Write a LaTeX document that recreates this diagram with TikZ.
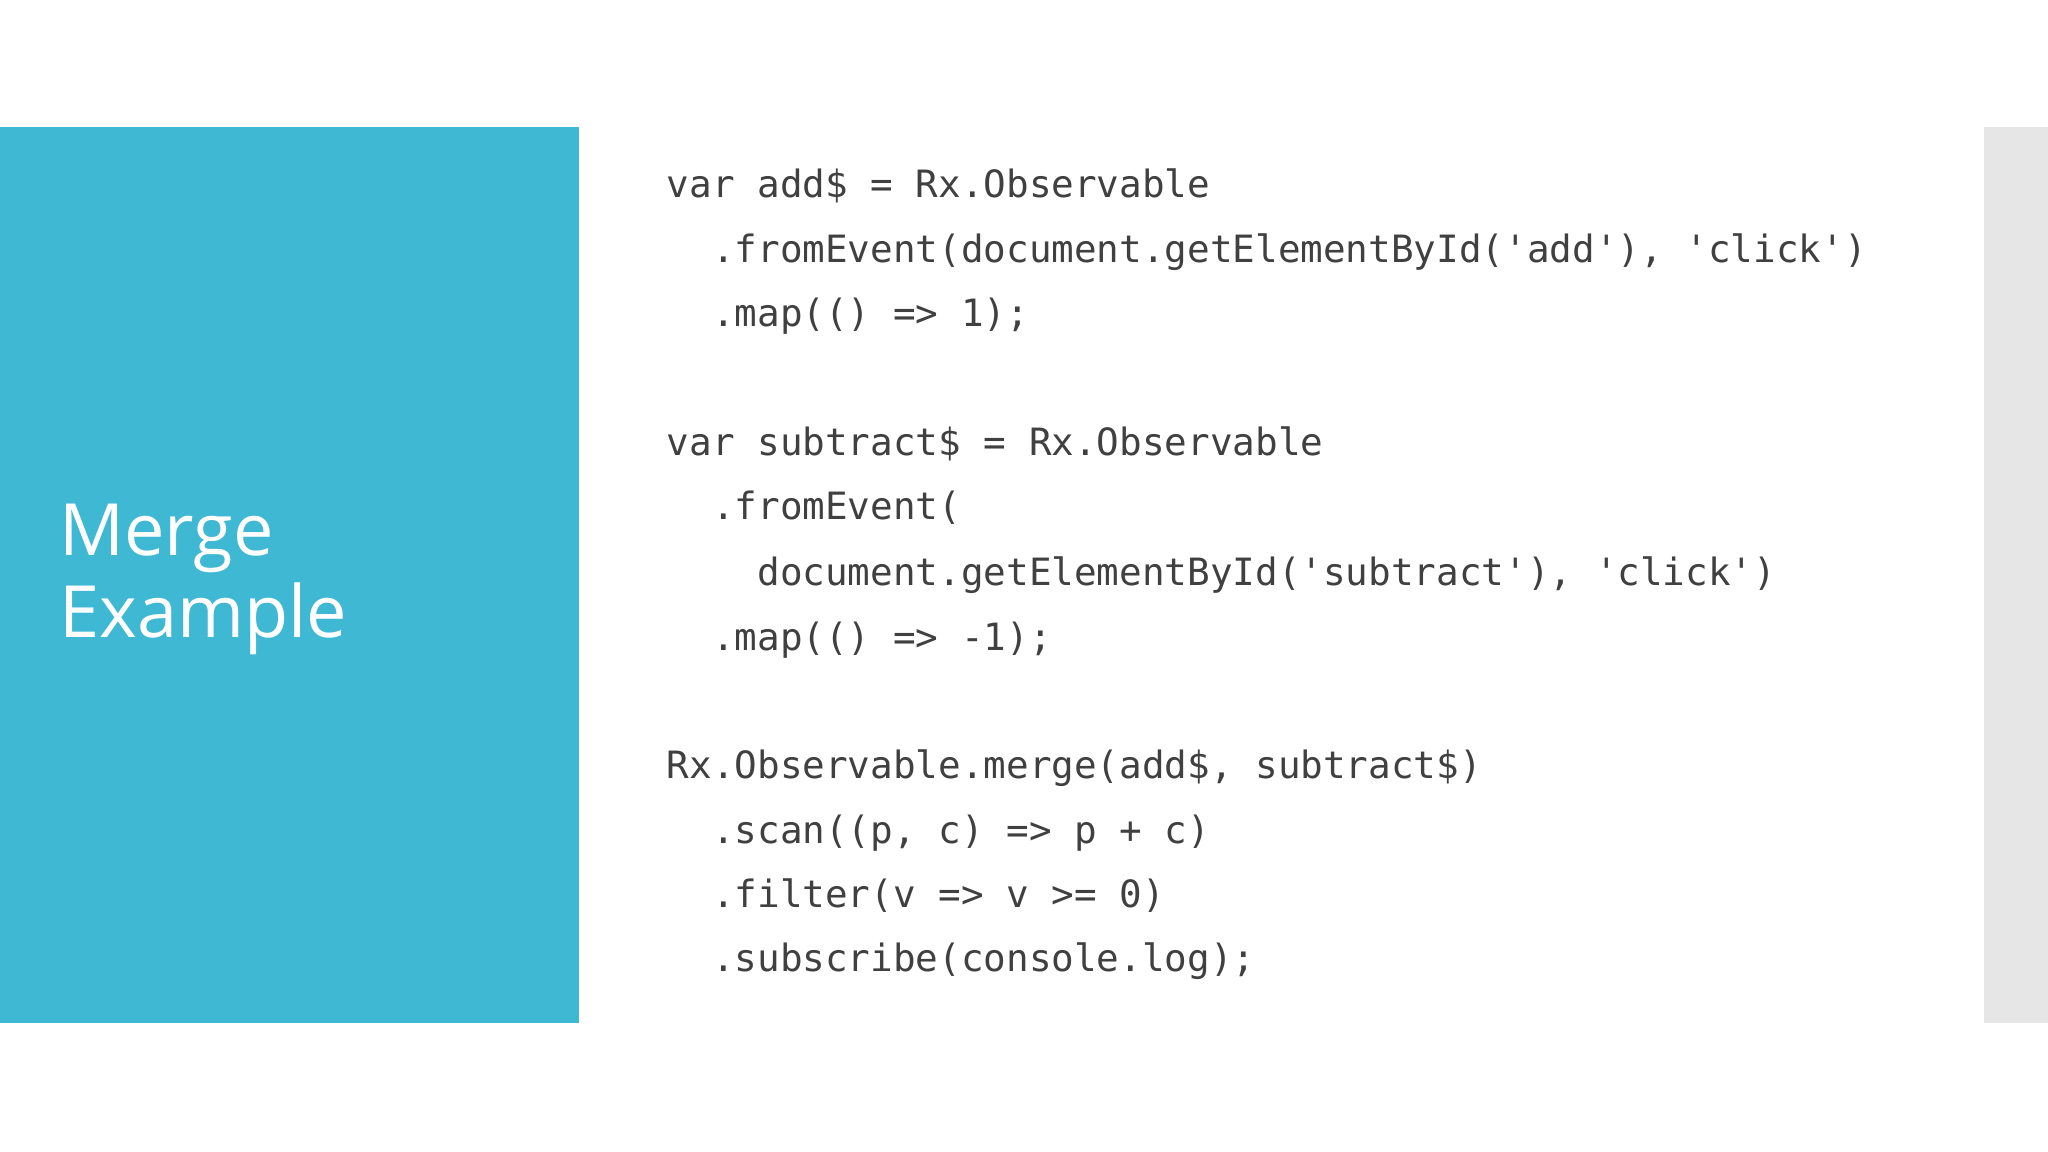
\documentclass[tikz,border=0pt]{standalone}
\usepackage{fontspec}
\setmainfont{Open Sans}
\newfontfamily\codefont{DejaVu Sans Mono}
\definecolor{slateblue}{HTML}{3FB8D4}
\definecolor{bargray}{HTML}{E6E6E6}
\definecolor{codegray}{HTML}{404040}
\begin{document}
\begin{tikzpicture}[x=0.013061cm,y=-0.013061cm,
  codeline/.style={anchor=base west,inner sep=0pt,text=codegray,font=\codefont\fontsize{10.7pt}{12pt}\selectfont},
  titletext/.style={anchor=base west,inner sep=0pt,text=white,font=\fontsize{20.5pt}{24pt}\selectfont}]
\useasboundingbox (0,0) rectangle (1568,882);
\fill[white] (0,0) rectangle (1568,882);
\fill[slateblue] (0,97) rectangle (443,783);
\fill[bargray] (1519,97) rectangle (1568,783);
\node[titletext] (t1) at (45,425) {Merge};
\node[titletext] (t2) at (45,488) {Example};
\node[codeline] (l1) at (510,151) {var add\$ = Rx.Observable};
\node[codeline] (l2) at (510,201) {\ \ .fromEvent(document.getElementById('add'), 'click')};
\node[codeline] (l3) at (510,250) {\ \ .map(() => 1);};
\node[codeline] (l4) at (510,349) {var subtract\$ = Rx.Observable};
\node[codeline] (l5) at (510,398) {\ \ .fromEvent(};
\node[codeline] (l6) at (510,448) {\ \ \ \ document.getElementById('subtract'), 'click')};
\node[codeline] (l7) at (510,498) {\ \ .map(() => -1);};
\node[codeline] (l8) at (510,596) {Rx.Observable.merge(add\$, subtract\$)};
\node[codeline] (l9) at (510,646) {\ \ .scan((p, c) => p + c)};
\node[codeline] (l10) at (510,695) {\ \ .filter(v => v >= 0)};
\node[codeline] (l11) at (510,744) {\ \ .subscribe(console.log);};
\end{tikzpicture}
\end{document}
